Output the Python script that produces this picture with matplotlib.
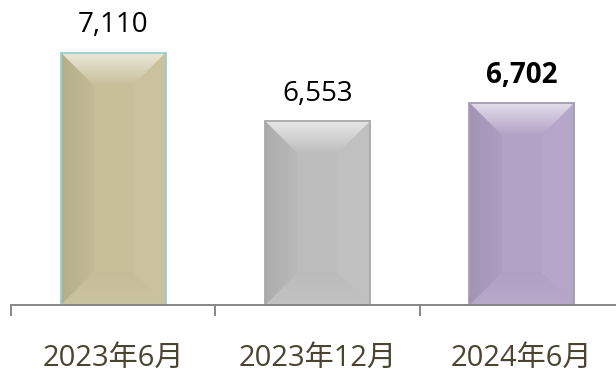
import matplotlib
matplotlib.use("Agg")
import matplotlib.pyplot as plt
import matplotlib.colors as mcolors
from matplotlib.patches import Polygon
import numpy as np

# chart data
periods = ['2023年6月', '2023年12月', '2024年6月']
members = [7110, 6553, 6702]
bold_label = [False, False, True]

bar_colors = ['#c6bf98', '#bdbdbd', '#b1a2c6']
edge_colors = ['#98cfd0', '#a8a8a8', '#a59db3']
axis_color = '#878787'
cat_color = '#4a4431'

y_floor, y_top = 5053, 7537

plt.rcParams['font.family'] = ['Open Sans', 'Noto Sans CJK JP', 'DejaVu Sans']


def mix(c, other, t):
    c = np.array(mcolors.to_rgb(c))
    o = np.array(mcolors.to_rgb(other))
    return tuple(c * (1 - t) + o * t)


fig = plt.figure(figsize=(6.16, 3.72), dpi=100)
ax = fig.add_axes([0.018, 0.179, 0.995, 0.821])

x = np.arange(len(periods))
heights = [v - y_floor for v in members]
bars = ax.bar(x, heights, width=0.515, bottom=y_floor, color=bar_colors,
              linewidth=0, zorder=2)
ax.set_xlim(-0.5, 2.5)
ax.set_ylim(y_floor, y_top)

# pixels per data unit, used for the bevel size
p0 = ax.transData.transform((0, y_floor))
p1 = ax.transData.transform((1, y_floor + 1))
sx, sy = p1[0] - p0[0], p1[1] - p0[1]
bev = 33


def gradient_facet(poly, extent, c_from, c_to, vertical):
    cmap = mcolors.LinearSegmentedColormap.from_list('g', [c_from, c_to])
    grad = np.linspace(0, 1, 64)
    img = grad.reshape(-1, 1) if vertical else grad.reshape(1, -1)
    patch = Polygon(poly, closed=True, facecolor='none', edgecolor='none')
    ax.add_patch(patch)
    im = ax.imshow(img, cmap=cmap, extent=extent, origin='lower',
                   aspect='auto', zorder=2.2, interpolation='bilinear')
    im.set_clip_path(patch)


for rect, col in zip(bars, bar_colors):
    x0, y0 = rect.get_x(), rect.get_y()
    x1, y1 = x0 + rect.get_width(), y0 + rect.get_height()
    dx, dy = bev / sx, bev / sy
    top = [(x0, y1), (x1, y1), (x1 - dx, y1 - dy), (x0 + dx, y1 - dy)]
    bottom = [(x0, y0), (x1, y0), (x1 - dx, y0 + dy), (x0 + dx, y0 + dy)]
    left = [(x0, y0), (x0, y1), (x0 + dx, y1 - dy), (x0 + dx, y0 + dy)]
    right = [(x1, y0), (x1, y1), (x1 - dx, y1 - dy), (x1 - dx, y0 + dy)]
    # top facet: light at the edge fading into the face
    gradient_facet(top, [x0, x1, y1 - dy, y1], col, mix(col, 'white', 0.65), True)
    # left facet: a bit darker toward the outer edge
    gradient_facet(left, [x0, x0 + dx, y0, y1], mix(col, 'black', 0.09),
                   mix(col, 'black', 0.02), False)
    ax.add_patch(Polygon(right, closed=True, facecolor=mix(col, 'white', 0.05),
                         edgecolor='none', zorder=2.1))
    gradient_facet(bottom, [x0, x1, y0, y0 + dy], mix(col, 'white', 0.08),
                   mix(col, 'black', 0.01), True)

# outlines on top of the facets
ax.bar(x, heights, width=0.515, bottom=y_floor, fill=False,
       edgecolor=edge_colors, linewidth=1.3, zorder=3)

# value labels
for rect, v, b in zip(bars, members, bold_label):
    ax.annotate(f'{v:,}', (rect.get_x() + rect.get_width() / 2, v),
                xytext=(0, 19.5), textcoords='offset points',
                ha='center', va='center', fontsize=20, color='#000000',
                fontweight='bold' if b else 'normal')

ax.set_xlim(-0.5, 2.5)
ax.set_ylim(y_floor, y_top)

for s in ['left', 'right', 'top']:
    ax.spines[s].set_visible(False)
ax.spines['bottom'].set_color(axis_color)
ax.spines['bottom'].set_linewidth(1.4)
ax.spines['bottom'].set_zorder(4)
ax.set_yticks([])

ax.set_xticks(x, periods)
ax.set_xticks(np.arange(-0.5, len(periods)), minor=True)
ax.tick_params(axis='x', which='major', length=0, pad=28,
               labelsize=21, labelcolor=cat_color)
ax.tick_params(axis='x', which='minor', length=8, width=1.4,
               color=axis_color, direction='out')

fig.savefig('out.png', dpi=100)
